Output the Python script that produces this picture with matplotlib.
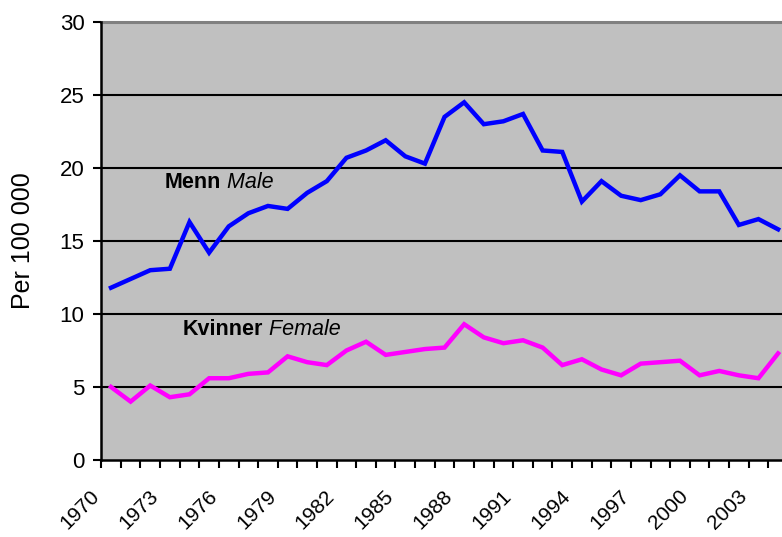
import matplotlib
matplotlib.use("Agg")
import matplotlib.pyplot as plt
import matplotlib.transforms as mtransforms
import numpy as np

plt.rcParams['font.family'] = ['Liberation Sans', 'DejaVu Sans']

# Data (per 100 000)
years = list(range(1970, 2005))
male = [11.8, 12.4, 13.0, 13.1, 16.3, 14.2, 16.0, 16.9, 17.4, 17.2,
        18.3, 19.1, 20.7, 21.2, 21.9, 20.8, 20.3, 23.5, 24.5, 23.0,
        23.2, 23.7, 21.2, 21.1, 17.7, 19.1, 18.1, 17.8, 18.2, 19.5,
        18.4, 18.4, 16.1, 16.5, 15.8]
female = [5.0, 4.0, 5.1, 4.3, 4.5, 5.6, 5.6, 5.9, 6.0, 7.1,
          6.7, 6.5, 7.5, 8.1, 7.2, 7.4, 7.6, 7.7, 9.3, 8.4,
          8.0, 8.2, 7.7, 6.5, 6.9, 6.2, 5.8, 6.6, 6.7, 6.8,
          5.8, 6.1, 5.8, 5.6, 7.3]
label_years = years[::3]
y_ticks = [0, 5, 10, 15, 20, 25, 30]

fig = plt.figure(figsize=(7.82, 5.37), dpi=100)
ax = fig.add_axes([101.2 / 782, 1 - 460 / 537, 1 - 101.2 / 782, 438 / 537])
ax.set_facecolor('#C0C0C0')

x = np.arange(len(years))
ax.plot(x, male, color='#0000FF', lw=3.2, solid_joinstyle='miter', zorder=3)
ax.plot(x, female, color='#FF00FF', lw=3.2, solid_joinstyle='miter', zorder=3)

ax.set_xlim(-0.5, len(years) - 1 + 0.2)
ax.set_ylim(0, 30)

# horizontal gridlines
for v in y_ticks[1:-1]:
    ax.axhline(v, color='black', lw=1.5, zorder=1)
ax.axhline(30, color='#808080', lw=2.2, zorder=1, clip_on=False)

for s in ['top', 'right']:
    ax.spines[s].set_visible(False)
for s in ['left', 'bottom']:
    ax.spines[s].set_linewidth(1.8)
    ax.spines[s].set_zorder(4)

ax.set_yticks(y_ticks)
ax.tick_params(axis='y', direction='out', length=6, width=1.5, labelsize=16, pad=6)

# category ticks between years, labels every third year
ax.set_xticks(np.arange(-0.5, len(years) - 0.5, 1), minor=True)
ax.set_xticks([years.index(yr) for yr in label_years])
ax.set_xticklabels([str(yr) for yr in label_years], rotation=45, ha='right', va='top')
ax.tick_params(axis='x', which='minor', direction='out', length=6, width=1.5)
ax.tick_params(axis='x', which='major', length=0, labelsize=15, pad=19)
offset = mtransforms.ScaledTranslation(-8 / 100, 0, fig.dpi_scale_trans)
for lbl in ax.get_xticklabels():
    lbl.set_transform(lbl.get_transform() + offset)

ax.set_ylabel('Per 100 000', fontsize=18)
ax.yaxis.set_label_coords(-0.097, 0.5)

t1 = ax.text(2.75, 18.63, 'Menn', fontsize=15.5, fontweight='bold', va='baseline')
ax.annotate(' Male', xy=(1, 0), xycoords=t1, fontsize=15.5, style='italic', va='bottom')
t2 = ax.text(3.67, 8.56, 'Kvinner', fontsize=15.5, fontweight='bold', va='baseline')
ax.annotate(' Female', xy=(1, 0), xycoords=t2, fontsize=15.5, style='italic', va='bottom')

fig.savefig('out.png', dpi=100)
